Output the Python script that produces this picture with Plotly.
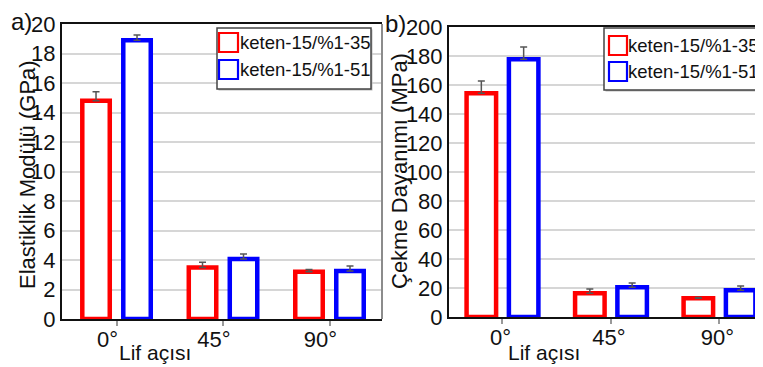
import plotly.graph_objects as go

# The page body adds an 8px margin, so the figure is drawn 8px in from the top-left.
OFF = 8
W, H = 763 - OFF, 367 - OFF

categories = ["0°", "45°", "90°"]
series_names = ["keten-15/%1-35", "keten-15/%1-51"]

# Panel a) Elastiklik Modülü (GPa)
mod_35 = [14.8, 3.5, 3.2]
mod_35_err = [0.6, 0.34, 0.15]
mod_51 = [18.9, 4.07, 3.25]
mod_51_err = [0.35, 0.33, 0.35]

# Panel b) Çekme Dayanımı (MPa)
ten_35 = [154.3, 16.4, 12.9]
ten_35_err = [8.5, 2.9, 0.5]
ten_51 = [177.8, 20.5, 18.5]
ten_51_err = [8.4, 2.9, 2.9]

a_ticks = [0, 2, 4, 6, 8, 10, 12, 14, 16, 18, 20]
b_ticks = [0, 20, 40, 60, 80, 100, 120, 140, 160, 180, 200]

RED = "#ff0000"
BLUE = "#0000ff"
FONT = "Arial, 'Liberation Sans', sans-serif"
LW = 4.5


def px(x):
    return (x - OFF) / W


def py(y):
    return 1 - (y - OFF) / H


def bar(xref, yref, vals, errs, color, name, offset, width):
    return go.Bar(
        x=categories, y=vals, name=name, xaxis=xref, yaxis=yref,
        offset=offset, width=width,
        marker=dict(color="white", line=dict(color=color, width=LW)),
        error_y=dict(type="data", array=errs, arrayminus=[0] * len(errs),
                     symmetric=False, color="#555555", thickness=1.5, width=3.5),
        showlegend=False,
    )


fig = go.Figure()
wa = 0.258
oa = 0.1925
fig.add_trace(bar("x", "y", mod_35, mod_35_err, RED, series_names[0], -oa - wa / 2, wa))
fig.add_trace(bar("x", "y", mod_51, mod_51_err, BLUE, series_names[1], oa - wa / 2, wa))
wb = 0.272
ob = 0.195
fig.add_trace(bar("x2", "y2", ten_35, ten_35_err, RED, series_names[0], -ob - wb / 2, wb))
fig.add_trace(bar("x2", "y2", ten_51, ten_51_err, BLUE, series_names[1], ob - wb / 2, wb))

xcommon = dict(type="category", showline=True, linecolor="#111111", linewidth=2,
               mirror=True, ticks="outside", ticklen=5, tickcolor="#999999", tickwidth=1.5,
               showgrid=False, tickfont=dict(size=22, color="#111111", family=FONT),
               ticklabelstandoff=-5, automargin=False, fixedrange=True)
ycommon = dict(showline=True, linecolor="#111111", linewidth=2, ticks="", ticklen=0,
               showgrid=True, gridcolor="#d6d6d6", gridwidth=1.5, zeroline=False,
               tickfont=dict(size=22, color="#111111", family=FONT),
               automargin=False, fixedrange=True)

fig.update_layout(
    width=W, height=H, margin=dict(l=0, r=0, t=0, b=0, pad=0, autoexpand=False),
    autosize=False, showlegend=False,
    paper_bgcolor="white", plot_bgcolor="white",
    font=dict(family=FONT, color="#111111"),
    barmode="group",
    xaxis=dict(domain=[px(62), px(382)], range=[-0.512, 2.493], anchor="y",
               ticklabelshift=-9, **xcommon),
    yaxis=dict(domain=[py(319), py(24)], range=[0, 20], tickvals=a_ticks, anchor="x", **ycommon),
    xaxis2=dict(domain=[px(449), 1.0], range=[-0.493, 2.401], anchor="y2",
                ticklabelshift=-2, **xcommon),
    yaxis2=dict(domain=[py(317), py(27)], range=[0, 200], tickvals=b_ticks, anchor="x2", **ycommon),
)

shapes = []
annotations = []

# right frame of panel a (grey)
shapes.append(dict(type="line", xref="x domain", yref="y domain", x0=1, x1=1, y0=0, y1=1,
                   line=dict(color="#8c8c8c", width=2)))


def legend(box, red_sq, blue_sq, text_x, text_ys):
    x0, y0, x1, y1 = box
    shapes.append(dict(type="rect", xref="paper", yref="paper", x0=px(x0 + 1.5), x1=px(x1 + 1.5),
                       y0=py(y0 + 1.5), y1=py(y1 + 1.5), fillcolor="#bbbbbb",
                       line=dict(width=0), layer="above"))
    shapes.append(dict(type="rect", xref="paper", yref="paper", x0=px(x0), x1=px(x1),
                       y0=py(y0), y1=py(y1), fillcolor="white",
                       line=dict(color="#444444", width=1.5), layer="above"))
    for (sx0, sy0, sx1, sy1), c in ((red_sq, RED), (blue_sq, BLUE)):
        shapes.append(dict(type="rect", xref="paper", yref="paper", x0=px(sx0), x1=px(sx1),
                           y0=py(sy0), y1=py(sy1), fillcolor="white",
                           line=dict(color=c, width=2.2), layer="above"))
    for name, ty in zip(series_names, text_ys):
        annotations.append(dict(text=name, xref="paper", yref="paper", x=px(text_x), y=py(ty),
                                xanchor="left", yanchor="middle", showarrow=False,
                                font=dict(size=18.5, family=FONT, color="#111111")))


legend((217, 28, 371, 89), (219, 33, 238, 52), (219, 60, 238, 79), 238, (42.5, 69.5))
legend((604, 28, 758, 90), (609, 36, 627, 55), (609, 62, 627, 81), 626, (45, 71))

for txt, x, y in (("a)", 21, 21), ("b)", 395, 24)):
    annotations.append(dict(text=txt, xref="paper", yref="paper", x=px(x), y=py(y),
                            xanchor="center", yanchor="middle", showarrow=False, borderpad=0,
                            font=dict(size=24, family=FONT, color="#111111")))

for x in (155, 543.5):
    annotations.append(dict(text="Lif açısı", xref="paper", yref="paper", x=px(x), y=py(352),
                            xanchor="center", yanchor="middle", showarrow=False,
                            font=dict(size=21, family=FONT, color="#111111")))

annotations.append(dict(text="Elastiklik Modülü (GPa)", xref="paper", yref="paper",
                        x=px(27), y=py(175), textangle=-90, xanchor="center", yanchor="middle",
                        showarrow=False, font=dict(size=22, family=FONT, color="#111111")))
annotations.append(dict(text="Çekme Dayanımı (MPa)", xref="paper", yref="paper",
                        x=px(399), y=py(171), textangle=-90, xanchor="center", yanchor="middle",
                        showarrow=False, font=dict(size=22, family=FONT, color="#111111")))

fig.update_layout(shapes=shapes, annotations=annotations)
fig.write_html("out.html")
